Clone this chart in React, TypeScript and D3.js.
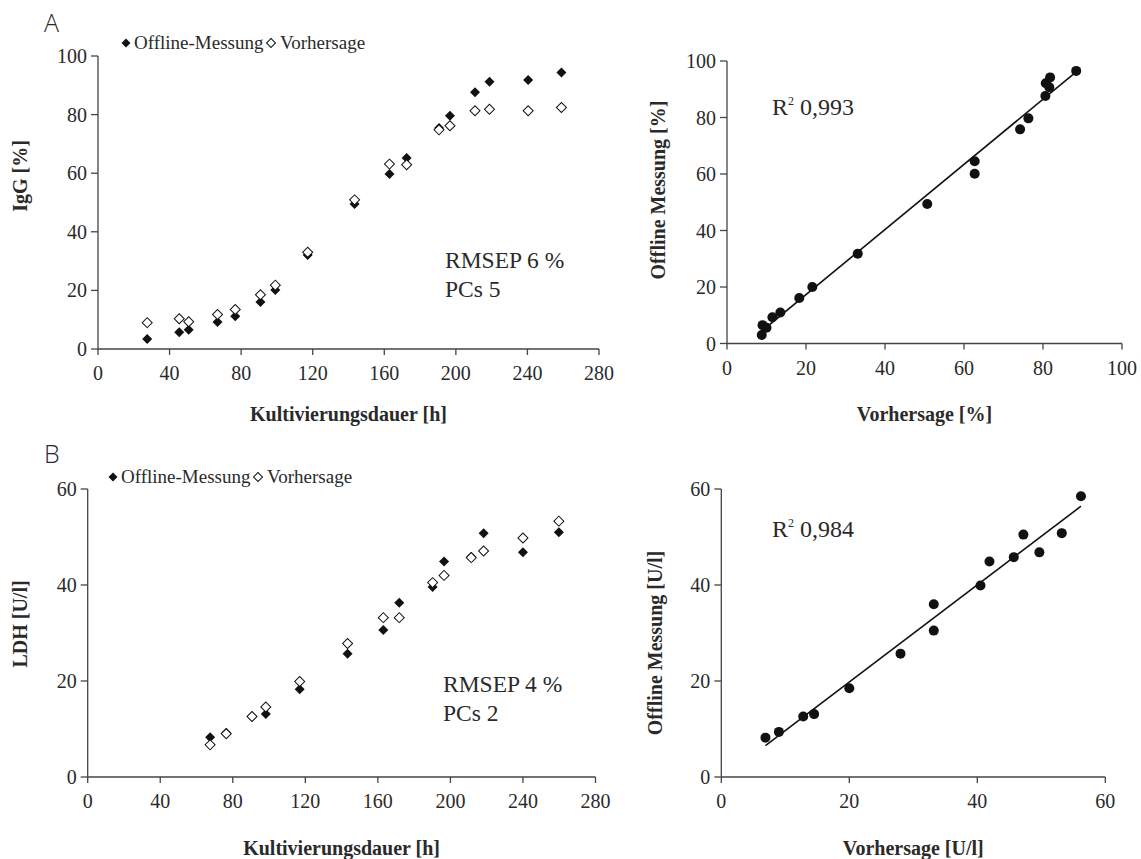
import React from "react";
import * as d3 from "d3";

// ---- Panel A (IgG) time course ----
const timeA = [27.5, 45.4, 50.7, 66.8, 76.7, 90.8, 99.1, 117.2, 143.4, 162.9, 172.5, 190.6, 196.7, 210.7, 218.8, 240.4, 259];
const offlineA = [3.4, 5.7, 6.6, 9.2, 11.2, 16.0, 20.1, 32.1, 49.5, 59.7, 65.2, 75.4, 79.6, 87.6, 91.2, 91.8, 94.4];
const predA = [9.0, 10.3, 9.3, 11.8, 13.5, 18.5, 21.8, 33.0, 50.9, 63.1, 62.9, 74.8, 76.2, 81.3, 81.8, 81.3, 82.4];

// ---- Panel A (IgG) parity ----
const parityPredA = [8.8, 9.0, 10.0, 11.5, 13.5, 18.3, 21.6, 33.1, 50.7, 62.7, 62.7, 74.2, 76.3, 80.6, 80.7, 81.6, 81.8, 88.4];
const parityOffA = [3.0, 6.5, 5.6, 9.3, 11.0, 16.1, 20.0, 31.8, 49.4, 60.1, 64.5, 75.8, 79.7, 87.6, 92.1, 90.7, 94.2, 96.5];

// ---- Panel B (LDH) time course ----
const timeB = [67.5, 76.4, 90.6, 98.2, 116.9, 143.3, 163.0, 171.8, 190.2, 196.5, 211.5, 218.3, 240.0, 259.8];
const offlineB = [8.3, 9.2, 12.6, 13.1, 18.3, 25.7, 30.6, 36.3, 39.6, 44.9, 45.9, 50.8, 46.8, 51.0];
const predB = [6.7, 9.0, 12.6, 14.6, 19.9, 27.8, 33.2, 33.2, 40.5, 42.0, 45.7, 47.1, 49.8, 53.3];

// ---- Panel B (LDH) parity ----
const parityPredB = [6.9, 9.0, 12.8, 14.5, 20.0, 28.0, 33.2, 33.2, 40.5, 41.9, 45.7, 47.2, 49.7, 53.2, 56.2];
const parityOffB = [8.2, 9.4, 12.6, 13.1, 18.5, 25.7, 30.5, 36.0, 39.9, 44.9, 45.8, 50.5, 46.8, 50.8, 58.5];

// ---- ticks ----
const timeTicks = [0, 40, 80, 120, 160, 200, 240, 280];
const pctTicks = [0, 20, 40, 60, 80, 100];
const ldhTicks = [0, 20, 40, 60];

const SERIF = "'Liberation Serif', 'Times New Roman', serif";
const SANS = "'Open Sans', 'DejaVu Sans', sans-serif";
const AXIS = "#444";
const TXT = "#2a2a2a";
const MARK = "#111";

const diamond = d3.symbol().type(d3.symbolSquare).size(50)();
const legendDiamond = d3.symbol().type(d3.symbolSquare).size(40)();

function regression(xs: number[], ys: number[]) {
  const mx = d3.mean(xs) as number;
  const my = d3.mean(ys) as number;
  let num = 0, den = 0;
  xs.forEach((x, i) => { num += (x - mx) * (ys[i] - my); den += (x - mx) * (x - mx); });
  const b = num / den;
  return { a: my - b * mx, b };
}

type Box = { x0: number; x1: number; y0: number; y1: number };

function Axes({ x, y, xTicks, yTicks, box, xLabel, yLabel, yLabelY, yLabelX, xLabelY }: any) {
  return (
    <g>
      <line x1={box.x0} x2={box.x1} y1={box.y0} y2={box.y0} stroke={AXIS} strokeWidth={1.3} />
      <line x1={box.x0} x2={box.x0} y1={box.y0} y2={box.y1} stroke={AXIS} strokeWidth={1.3} />
      {xTicks.map((t: number) => (
        <g key={"x" + t}>
          <line x1={x(t)} x2={x(t)} y1={box.y0} y2={box.y0 + 6} stroke={AXIS} strokeWidth={1.3} />
          <text x={x(t)} y={box.y0 + 31} textAnchor="middle" fontFamily={SERIF} fontSize={20} fill={TXT}>{t}</text>
        </g>
      ))}
      {yTicks.map((t: number) => (
        <g key={"y" + t}>
          <line x1={box.x0 - 7} x2={box.x0} y1={y(t)} y2={y(t)} stroke={AXIS} strokeWidth={1.3} />
          <text x={box.x0 - 11} y={y(t) + 7} textAnchor="end" fontFamily={SERIF} fontSize={20} fill={TXT}>{t}</text>
        </g>
      ))}
      <text x={(box.x0 + box.x1) / 2} y={xLabelY} textAnchor="middle" fontFamily={SERIF} fontWeight="bold" fontSize={20} fill={TXT}>{xLabel}</text>
      <text transform={`translate(${yLabelX},${yLabelY}) rotate(-90)`} textAnchor="middle" dominantBaseline="central" fontFamily={SERIF} fontWeight="bold" fontSize={20} fill={TXT}>{yLabel}</text>
    </g>
  );
}

function TimePanel({ box, xDomain, yDomain, yTicks, times, off, pred, yLabel, yLabelY, xLabelY, letter, letterY, legendX, legendY, rmsep, pcs, textX, textY }: any) {
  const x = d3.scaleLinear().domain(xDomain).range([box.x0, box.x1]);
  const y = d3.scaleLinear().domain(yDomain).range([box.y0, box.y1]);
  return (
    <g>
      <text x={44} y={letterY} fontFamily={SANS} fontWeight={300} fontSize={25} fill={TXT}>{letter}</text>
      <g transform={`translate(${legendX},${legendY})`}>
        <path d={legendDiamond} transform="rotate(45)" fill={MARK} />
        <text x={8} y={6} fontFamily={SERIF} fontSize={19} fill={TXT}>Offline-Messung</text>
        <path d={legendDiamond} transform="translate(145,0) rotate(45)" fill="#fff" stroke={MARK} strokeWidth={1} />
        <text x={154} y={6} fontFamily={SERIF} fontSize={19} fill={TXT}>Vorhersage</text>
      </g>
      <Axes x={x} y={y} xTicks={timeTicks} yTicks={yTicks} box={box} xLabel="Kultivierungsdauer [h]" yLabel={yLabel} yLabelX={20} yLabelY={yLabelY} xLabelY={xLabelY} />
      {times.map((t: number, i: number) => (
        <path key={"f" + i} d={diamond} transform={`translate(${x(t)},${y(off[i])}) rotate(45)`} fill={MARK} />
      ))}
      {times.map((t: number, i: number) => (
        <path key={"o" + i} d={diamond} transform={`translate(${x(t)},${y(pred[i])}) rotate(45)`} fill="#fff" stroke={MARK} strokeWidth={1} />
      ))}
      <text x={textX} y={textY} fontFamily={SERIF} fontSize={23.5} fill={TXT}>{rmsep}</text>
      <text x={textX} y={textY + 29} fontFamily={SERIF} fontSize={23.5} fill={TXT}>{pcs}</text>
    </g>
  );
}

function ParityPanel({ box, xDomain, yDomain, xTicks, yTicks, px, py, xLabel, yLabel, yLabelX, yLabelY, xLabelY, r2, r2Y }: any) {
  const x = d3.scaleLinear().domain(xDomain).range([box.x0, box.x1]);
  const y = d3.scaleLinear().domain(yDomain).range([box.y0, box.y1]);
  const { a, b } = regression(px, py);
  const [xmin, xmax] = d3.extent(px) as [number, number];
  const line = d3.line<number>().x((v) => x(v)).y((v) => y(a + b * v));
  return (
    <g>
      <Axes x={x} y={y} xTicks={xTicks} yTicks={yTicks} box={box} xLabel={xLabel} yLabel={yLabel} yLabelX={yLabelX} yLabelY={yLabelY} xLabelY={xLabelY} />
      <path d={line([xmin, xmax]) as string} stroke={MARK} strokeWidth={1.6} fill="none" />
      {px.map((v: number, i: number) => (
        <circle key={i} cx={x(v)} cy={y(py[i])} r={5} fill={MARK} />
      ))}
      <text x={772} y={r2Y} fontFamily={SERIF} fontSize={24} fill={TXT}>
        R<tspan fontSize={12} dy={-10}>2</tspan><tspan dy={10}> {r2}</tspan>
      </text>
    </g>
  );
}

export default function App() {
  return (
    <svg width={1141} height={859} style={{ position: "absolute", left: 0, top: 0, background: "#fff" }}>
      <TimePanel
        box={{ x0: 98, x1: 599, y0: 349, y1: 56 } as Box}
        xDomain={[0, 280]} yDomain={[0, 100]} yTicks={pctTicks}
        times={timeA} off={offlineA} pred={predA}
        yLabel="IgG [%]" yLabelY={176} xLabelY={421}
        letter="A" letterY={32} legendX={126} legendY={43}
        rmsep="RMSEP 6 %" pcs="PCs 5" textX={445} textY={268}
      />
      <ParityPanel
        box={{ x0: 727, x1: 1122, y0: 343.5, y1: 61 } as Box}
        xDomain={[0, 100]} yDomain={[0, 100]} xTicks={pctTicks} yTicks={pctTicks}
        px={parityPredA} py={parityOffA}
        xLabel="Vorhersage [%]" yLabel="Offline Messung [%]" yLabelX={658} yLabelY={190} xLabelY={421}
        r2="0,993" r2Y={115}
      />
      <TimePanel
        box={{ x0: 87.7, x1: 595.5, y0: 777, y1: 489 } as Box}
        xDomain={[0, 280]} yDomain={[0, 60]} yTicks={ldhTicks}
        times={timeB} off={offlineB} pred={predB}
        yLabel="LDH [U/l]" yLabelY={624} xLabelY={855}
        letter="B" letterY={463} legendX={113} legendY={477}
        rmsep="RMSEP 4 %" pcs="PCs 2" textX={443} textY={692}
      />
      <ParityPanel
        box={{ x0: 721.3, x1: 1105.3, y0: 777, y1: 489 } as Box}
        xDomain={[0, 60]} yDomain={[0, 60]} xTicks={ldhTicks} yTicks={ldhTicks}
        px={parityPredB} py={parityOffB}
        xLabel="Vorhersage [U/l]" yLabel="Offline Messung [U/l]" yLabelX={655} yLabelY={643} xLabelY={855}
        r2="0,984" r2Y={537}
      />
    </svg>
  );
}
